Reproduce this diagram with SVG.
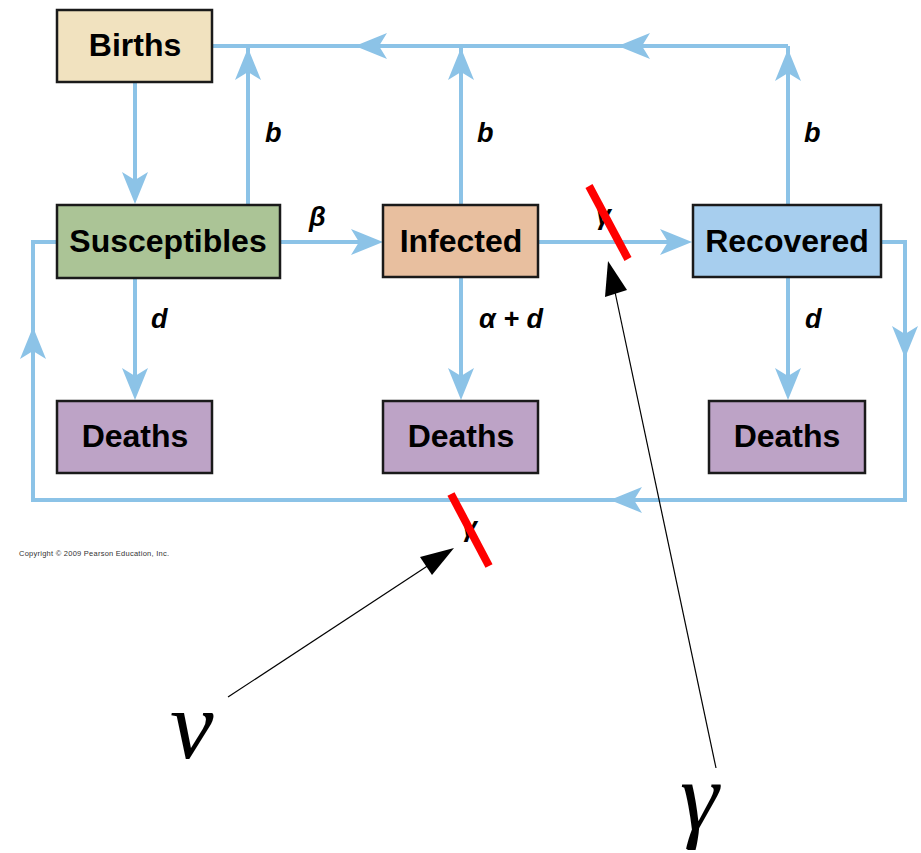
<svg xmlns="http://www.w3.org/2000/svg" xmlns:xlink="http://www.w3.org/1999/xlink" width="921" height="853" viewBox="0 0 921 853">
<style>
.box{stroke:#1a1a1a;stroke-width:2.5}
.bt{font-family:"Liberation Sans",Arial,sans-serif;font-weight:bold;font-size:32px;fill:#000;text-anchor:middle}
.lbl{font-family:"Liberation Sans",Arial,sans-serif;font-weight:bold;font-style:italic;font-size:27px;fill:#000}
.ln{fill:none;stroke:#8cc3e7;stroke-width:4}
.ah{fill:#8cc3e7}
.red{stroke:#ff0000;stroke-width:8}
.thin{stroke:#000;stroke-width:1.2;fill:none}
.big{font-family:"Liberation Serif","Times New Roman",serif;font-style:italic;font-size:98px;fill:#000}
</style>
<defs>
<path id="ah" d="M0,0 L-32,-13 L-24,0 L-32,13 Z"/>
</defs>
<rect width="921" height="853" fill="#ffffff"/>
<g id="connectors">
<polyline class="ln" points="212,46 788,46"/>
<line class="ln" x1="135" y1="83" x2="135" y2="195"/>
<line class="ln" x1="248" y1="205" x2="248" y2="46"/>
<line class="ln" x1="461" y1="205" x2="461" y2="46"/>
<line class="ln" x1="788" y1="205" x2="788" y2="46"/>
<line class="ln" x1="280" y1="242" x2="375" y2="242"/>
<line class="ln" x1="538" y1="242" x2="684" y2="242"/>
<line class="ln" x1="135" y1="278" x2="135" y2="392"/>
<line class="ln" x1="461" y1="277" x2="461" y2="392"/>
<line class="ln" x1="788" y1="277" x2="788" y2="392"/>
<polyline class="ln" points="881,242 905,242 905,500 33,500 33,242 57,242"/>
<use href="#ah" class="ah" transform="translate(135,204) rotate(90)"/>
<use href="#ah" class="ah" transform="translate(248,48) rotate(-90)"/>
<use href="#ah" class="ah" transform="translate(461,48) rotate(-90)"/>
<use href="#ah" class="ah" transform="translate(788,49) rotate(-90)"/>
<use href="#ah" class="ah" transform="translate(355,46) rotate(180)"/>
<use href="#ah" class="ah" transform="translate(618,46) rotate(180)"/>
<use href="#ah" class="ah" transform="translate(383,242)"/>
<use href="#ah" class="ah" transform="translate(692,242)"/>
<use href="#ah" class="ah" transform="translate(135,400) rotate(90)"/>
<use href="#ah" class="ah" transform="translate(461,400) rotate(90)"/>
<use href="#ah" class="ah" transform="translate(788,400) rotate(90)"/>
<use href="#ah" class="ah" transform="translate(905,358) rotate(90)"/>
<use href="#ah" class="ah" transform="translate(610,500) rotate(180)"/>
<use href="#ah" class="ah" transform="translate(33,327) rotate(-90)"/>
</g>
<g id="labels">
<text class="lbl" x="265" y="142">b</text>
<text class="lbl" x="477" y="142">b</text>
<text class="lbl" x="804" y="142">b</text>
<text class="lbl" x="309" y="226">β</text>
<text class="lbl" x="151" y="328">d</text>
<text class="lbl" x="479" y="328">α + d</text>
<text class="lbl" x="805" y="328">d</text>
<text class="lbl" x="596" y="224" font-size="24">γ</text>
<text class="lbl" x="462" y="536" font-size="22" font-weight="normal">γ</text>
</g>
<g id="births"><rect class="box" x="57" y="10" width="155" height="72" fill="#f1e2bf"/><text class="bt" x="135" y="56">Births</text></g>
<g id="susceptibles"><rect class="box" x="57" y="205" width="223" height="73" fill="#abc496"/><text class="bt" x="168" y="252">Susceptibles</text></g>
<g id="infected"><rect class="box" x="383" y="205" width="155" height="72" fill="#e8bf9f"/><text class="bt" x="461" y="252">Infected</text></g>
<g id="recovered"><rect class="box" x="693" y="205" width="188" height="72" fill="#a7ceee"/><text class="bt" x="787" y="252">Recovered</text></g>
<g id="deaths1"><rect class="box" x="57" y="401" width="155" height="72" fill="#bda3c6"/><text class="bt" x="135" y="447">Deaths</text></g>
<g id="deaths2"><rect class="box" x="383" y="401" width="155" height="72" fill="#bda3c6"/><text class="bt" x="461" y="447">Deaths</text></g>
<g id="deaths3"><rect class="box" x="709" y="401" width="156" height="72" fill="#bda3c6"/><text class="bt" x="787" y="447">Deaths</text></g>
<text x="19" y="556" font-family="'Liberation Sans',Arial,sans-serif" font-size="7.5" fill="#333" textLength="150">Copyright © 2009 Pearson Education, Inc.</text>
<g id="marks">
<line class="red" x1="589" y1="186" x2="628" y2="259"/>
<line class="red" x1="451" y1="494" x2="489" y2="566"/>
<line class="thin" x1="228" y1="697" x2="432" y2="563"/>
<path d="M454,548 L420,557 L432,575 Z" fill="#000"/>
<line class="thin" x1="716" y1="768" x2="615" y2="292"/>
<path d="M608,261 L605,297 L627,290 Z" fill="#000"/>
<text class="big" x="170" y="758">ν</text>
<text class="big" x="680" y="829">γ</text>
</g>
</svg>
